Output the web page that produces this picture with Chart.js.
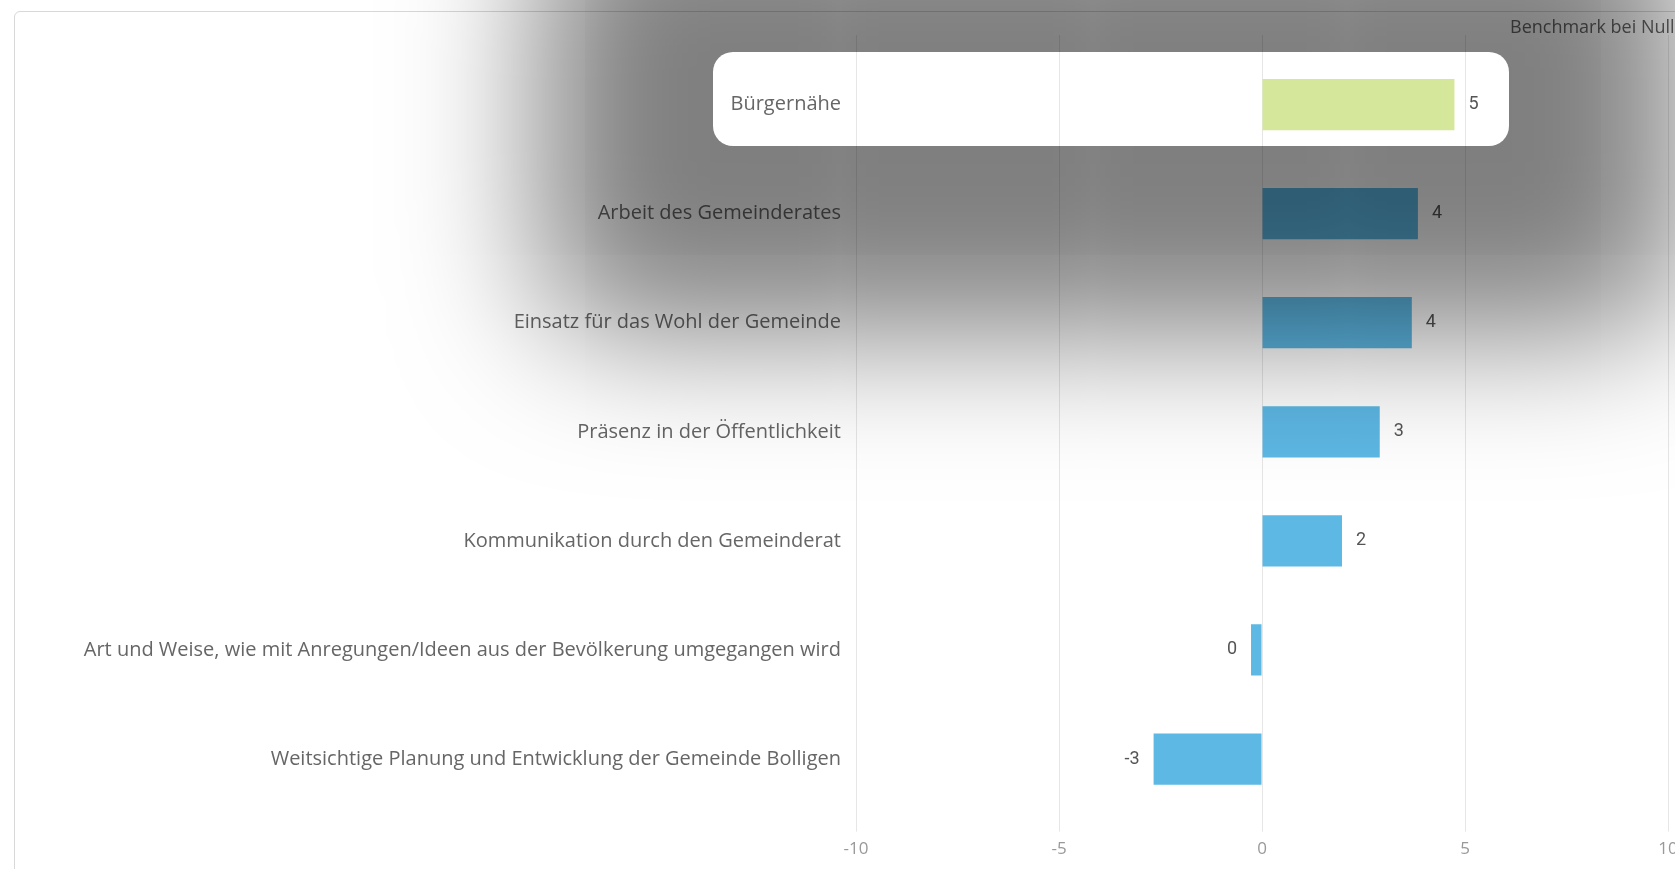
<!DOCTYPE html>
<html>
<head>
<meta charset="utf-8">
<script src="https://cdn.jsdelivr.net/npm/chart.js@4/dist/chart.umd.min.js"></script>
<style>
  html, body { margin: 0; padding: 0; overflow: hidden; background: #fff; }
  body { width: 1675px; height: 869px; position: relative; }
  .card {
    position: absolute; left: 14px; top: 11px; width: 1720px; height: 900px;
    border: 1px solid #d8d8d8; border-radius: 6px; background: #fff;
    box-sizing: border-box;
  }
  #grafic { position: absolute; left: 0; top: 0; }
  .benchmark {
    position: absolute; left: 1510px; top: 14px;
    font: 18px "Open Sans", sans-serif; color: #666; white-space: nowrap;
  }
  #spot {
    position: absolute; border-radius: 20px; pointer-events: none;
    box-shadow: 0 15px 140px 172px rgba(0, 0, 0, 0.5);
  }
</style>
</head>
<body>
<div class="card"></div>
<canvas id="grafic" width="1700" height="869"></canvas>
<div class="benchmark">Benchmark bei Null</div>
<div id="spot"></div>

<script>
const categories = [
  "Bürgernähe",
  "Arbeit des Gemeinderates",
  "Einsatz für das Wohl der Gemeinde",
  "Präsenz in der Öffentlichkeit",
  "Kommunikation durch den Gemeinderat",
  "Art und Weise, wie mit Anregungen/Ideen aus der Bevölkerung umgegangen wird",
  "Weitsichtige Planung und Entwicklung der Gemeinde Bolligen"
];
const scores = [4.74, 3.84, 3.69, 2.9, 1.97, -0.27, -2.67];
const axisTicks = [-10, -5, 0, 5, 10];
const highlighted = "Bürgernähe";

const labelFont = '20px "Open Sans", sans-serif';
const valueFont = '18px Roboto, sans-serif';

// value next to the end of each bar, rounded
const valueLabels = {
  id: 'valueLabels',
  afterDatasetsDraw(chart) {
    const ctx = chart.ctx;
    const meta = chart.getDatasetMeta(0);
    ctx.save();
    ctx.font = valueFont;
    ctx.fillStyle = '#555';
    ctx.textBaseline = 'middle';
    meta.data.forEach((bar, i) => {
      let txt = String(Math.round(scores[i]));
      if (scores[i] >= 0) {
        ctx.textAlign = 'left';
        ctx.fillText(txt, bar.x + 14, bar.y);
      } else {
        ctx.textAlign = 'right';
        ctx.fillText(txt, bar.x - 14, bar.y);
      }
    });
    ctx.restore();
  }
};

// white window around the selected row, the rest of the page dimmed
const spotlight = {
  id: 'spotlight',
  afterRender(chart) {
    const i = categories.indexOf(highlighted);
    const bar = chart.getDatasetMeta(0).data[i];
    const yScale = chart.scales.y;
    const ctx = chart.ctx;
    ctx.save();
    ctx.font = labelFont;
    const labelW = ctx.measureText(categories[i]).width;
    ctx.font = valueFont;
    const valW = ctx.measureText(String(Math.round(scores[i]))).width;
    ctx.restore();
    const left = yScale.right - 15 - labelW - 18;
    const right = bar.x + 14 + valW + 30;
    const spot = document.getElementById('spot');
    spot.style.left = left + 'px';
    spot.style.top = (bar.y - 52.5) + 'px';
    spot.style.width = (right - left) + 'px';
    spot.style.height = '94px';
  }
};

const gridColor = '#e6e6e6';

new Chart(document.getElementById('grafic'), {
  type: 'bar',
  data: {
    labels: categories,
    datasets: [{
      label: 'Benchmark bei Null',
      data: scores,
      backgroundColor: c => categories[c.dataIndex] === highlighted ? '#d4e79a' : '#5db8e4',
      borderWidth: 0,
      categoryPercentage: 1,
      barPercentage: 0.47
    }]
  },
  options: {
    indexAxis: 'y',
    responsive: false,
    animation: false,
    layout: { padding: { top: 35, bottom: 3, left: 0, right: 32 } },
    plugins: {
      legend: { display: false },
      tooltip: { enabled: false }
    },
    scales: {
      x: {
        min: axisTicks[0],
        max: axisTicks[axisTicks.length - 1],
        afterBuildTicks: s => { s.ticks = axisTicks.map(v => ({ value: v })); },
        grid: { color: gridColor, tickLength: 18 },
        border: { display: false },
        ticks: {
          padding: 7,
          color: '#999',
          font: { family: '"Open Sans", sans-serif', size: 17 }
        }
      },
      xTop: {
        type: 'linear',
        position: 'top',
        min: axisTicks[0],
        max: axisTicks[axisTicks.length - 1],
        afterBuildTicks: s => { s.ticks = axisTicks.map(v => ({ value: v })); },
        grid: { color: gridColor, tickLength: 15, drawOnChartArea: false },
        border: { display: false },
        ticks: { display: false }
      },
      y: {
        afterFit: s => { s.width = 856; },
        grid: { display: false, drawTicks: false },
        border: { display: false },
        ticks: {
          padding: 15,
          color: '#666',
          font: { family: '"Open Sans", sans-serif', size: 20 }
        }
      }
    }
  },
  plugins: [valueLabels, spotlight]
});
</script>
</body>
</html>
